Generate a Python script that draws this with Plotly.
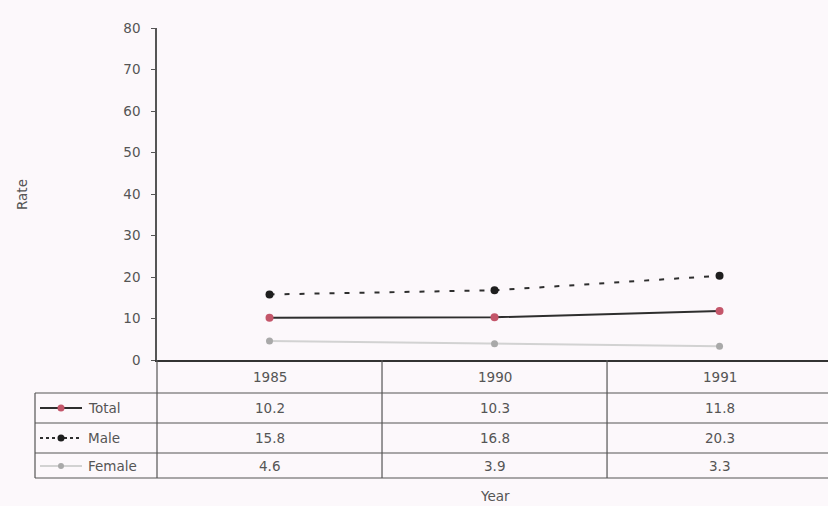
import plotly.graph_objects as go

# Rates by year
years = ["1985", "1990", "1991"]
total = [10.2, 10.3, 11.8]
male = [15.8, 16.8, 20.3]
female = [4.6, 3.9, 3.3]
y_ticks = [0, 10, 20, 30, 40, 50, 60, 70, 80]

W, H = 828, 506
L, T, B = 157, 28, 146
X_RANGE = [-0.5, 2.482]
plot_w = W - L
plot_h = H - T - B

BG = "#fcf8fb"
TXT = "#555555"
GRID = "#555555"
FONT = "DejaVu Sans, sans-serif"
FS = 13.5

series = [
    dict(name="Total", y=total, color="#2e2e2e", dash="solid", marker="#c4566a", msize=8),
    dict(name="Male", y=male, color="#2e2e2e", dash="5px,10px", marker="#1e1e1e", msize=8),
    dict(name="Female", y=female, color="#d2d2d2", dash="solid", marker="#a9a9a9", msize=7),
]

fig = go.Figure()
for s in series:
    fig.add_trace(go.Scatter(
        x=years, y=s["y"], name=s["name"], mode="lines+markers",
        line=dict(color=s["color"], width=2, dash=s["dash"]),
        marker=dict(color=s["marker"], size=s["msize"]),
        showlegend=False, cliponaxis=False,
    ))


def px_x(px):
    return (px - L) / plot_w


def px_y(py):
    return (H - B - py) / plot_h


def cat_x(k):
    return (k - X_RANGE[0]) / (X_RANGE[1] - X_RANGE[0])


def label(x, y, text, xanchor="center", angle=0):
    return dict(xref="paper", yref="paper", x=x, y=y, text=text, showarrow=False,
                xanchor=xanchor, yanchor="middle", textangle=angle,
                font=dict(size=FS, color=TXT, family=FONT))


shapes = []
annotations = []
line_style = dict(color=GRID, width=1.2)

# table rows (pixel positions of horizontal rules)
row_lines = [393, 423, 453, 478]
for ry in row_lines:
    shapes.append(dict(type="line", xref="paper", yref="paper",
                       x0=px_x(35), x1=1, y0=px_y(ry), y1=px_y(ry), line=line_style))
# column separators between categories
for k in range(len(years) - 1):
    xb = cat_x(k + 0.5)
    shapes.append(dict(type="line", xref="paper", yref="paper",
                       x0=xb, x1=xb, y0=0, y1=px_y(478), line=line_style))
# left edge of the value table and legend column
shapes.append(dict(type="line", xref="paper", yref="paper",
                   x0=0, x1=0, y0=0, y1=px_y(478), line=line_style))
shapes.append(dict(type="line", xref="paper", yref="paper",
                   x0=px_x(35), x1=px_x(35), y0=px_y(393), y1=px_y(478), line=line_style))

# header row with the years
for k, yr in enumerate(years):
    annotations.append(label(cat_x(k), px_y(377), yr))

# data rows with legend keys
row_centers = [408, 438, 466]
for s, rc in zip(series, row_centers):
    yy = px_y(rc)
    shapes.append(dict(type="line", xref="paper", yref="paper",
                       x0=px_x(40), x1=px_x(82), y0=yy, y1=yy,
                       line=dict(color=s["color"], width=2,
                                 dash="dot" if s["dash"] != "solid" else "solid")))
    r = (s["msize"] - 1) / 2
    shapes.append(dict(type="circle", xref="paper", yref="paper",
                       x0=px_x(61 - r), x1=px_x(61 + r), y0=px_y(rc + r), y1=px_y(rc - r),
                       fillcolor=s["marker"], line=dict(width=0)))
    annotations.append(label(px_x(86), yy, s["name"], xanchor="left"))
    for k, v in enumerate(s["y"]):
        annotations.append(label(cat_x(k), yy, f"{v:.1f}"))

annotations.append(label(cat_x(1), px_y(496), "Year"))
annotations.append(label(px_x(22), px_y(195), "Rate", angle=-90))

fig.update_layout(
    width=W, height=H,
    margin=dict(l=L, r=0, t=T, b=B, pad=0),
    paper_bgcolor=BG, plot_bgcolor=BG,
    font=dict(family=FONT, color=TXT, size=FS),
    xaxis=dict(range=X_RANGE, showticklabels=False, ticks="", showgrid=False,
               zeroline=False, showline=True, linecolor="#333333", linewidth=1.5,
               type="category"),
    yaxis=dict(range=[0, 80], tickvals=y_ticks, ticks="outside", ticklen=4,
               tickcolor="#555555", showgrid=False, zeroline=False, showline=True,
               linecolor="#555555", linewidth=1.5, tickfont=dict(size=FS, color=TXT),
               ticklabelstandoff=8),
    shapes=shapes, annotations=annotations,
)

fig.write_html("out.html")
